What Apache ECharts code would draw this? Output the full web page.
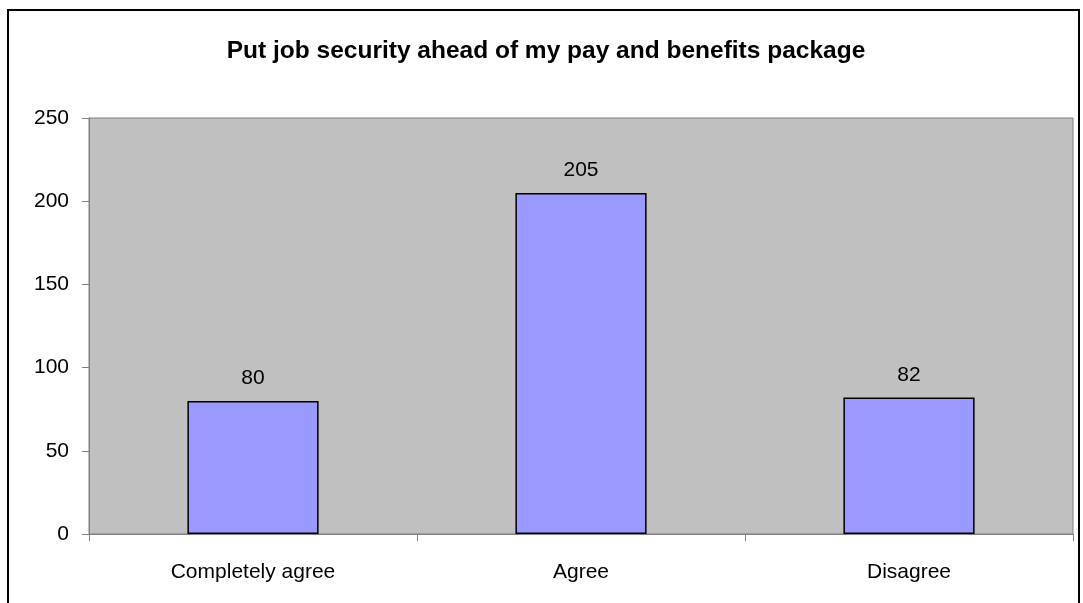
<!DOCTYPE html>
<html><head><meta charset="utf-8">
<script src="https://cdn.jsdelivr.net/npm/echarts@6/dist/echarts.min.js"></script>
<style>
html,body{margin:0;padding:0;background:#fff;}
#frame{position:absolute;left:7px;top:9px;width:1073px;height:600px;border:2px solid #000;box-sizing:border-box;}
#c{position:absolute;left:0;top:0;width:1083px;height:603px;}
</style></head>
<body>
<div id="frame"></div>
<div id="c"></div>
<script>
const titleText = 'Put job security ahead of my pay and benefits package';
const categories = ['Completely agree', 'Agree', 'Disagree'];
const values = [80, 205, 82];
const yTicks = [0, 50, 100, 150, 200, 250];

const chart = echarts.init(document.getElementById('c'), null, {renderer:'canvas'});
const font = 'Liberation Sans, Arial, sans-serif';
chart.setOption({
  animation:false,
  title:{text:titleText,left:541,top:34,textAlign:'center',
    textStyle:{fontFamily:font,fontSize:24.5,fontWeight:'bold',color:'#000'}},
  grid:{left:89,right:10,top:118,bottom:69,show:true,backgroundColor:'#c0c0c0',borderColor:'#808080',borderWidth:1},
  xAxis:{type:'category',data:categories,
    axisLine:{lineStyle:{color:'#808080',width:1}},
    axisTick:{show:true,length:7,lineStyle:{color:'#808080'}},
    axisLabel:{color:'#000',fontFamily:font,fontSize:21,margin:28},
  },
  yAxis:{type:'value',min:yTicks[0],max:yTicks[yTicks.length-1],interval:50,
    axisLine:{show:true,lineStyle:{color:'#808080'}},
    axisTick:{show:true,length:7,lineStyle:{color:'#808080'}},
    splitLine:{show:false},
    axisLabel:{color:'#000',fontFamily:font,fontSize:21,margin:20}
  },
  series:[{type:'bar',data:values,barWidth:'40%',
    itemStyle:{color:'#9999ff',borderColor:'#000',borderWidth:1.5},
    label:{show:true,position:'top',distance:12,color:'#000',fontFamily:font,fontSize:21}
  }]
});
</script>
</body></html>
